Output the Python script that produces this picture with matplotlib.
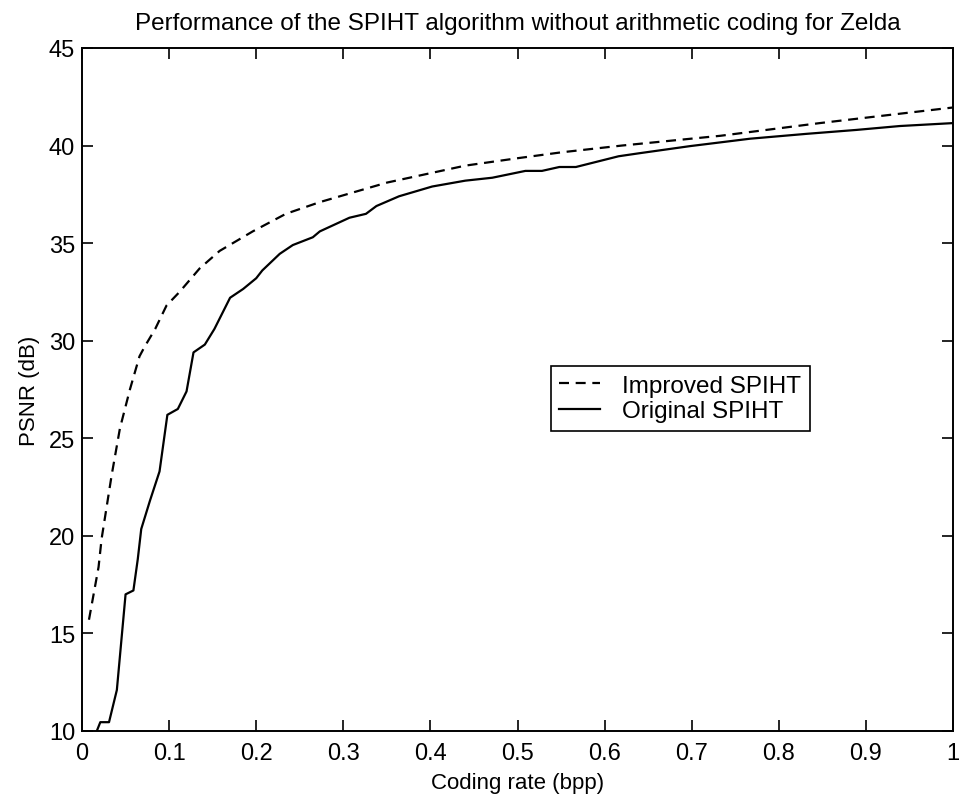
import matplotlib
matplotlib.use("Agg")
import matplotlib.pyplot as plt

plt.rcParams['font.family'] = ['Liberation Sans', 'DejaVu Sans']

# Original SPIHT rate-distortion curve (bpp, dB)
orig_rate = [0.017, 0.021, 0.031, 0.040, 0.050, 0.059, 0.064, 0.068, 0.078, 0.089,
             0.098, 0.110, 0.120, 0.128, 0.141, 0.152, 0.170, 0.185, 0.200, 0.207,
             0.227, 0.242, 0.265, 0.273, 0.307, 0.326, 0.338, 0.364, 0.402, 0.440,
             0.471, 0.509, 0.528, 0.548, 0.567, 0.616, 0.639, 0.698, 0.767, 0.832,
             0.889, 0.939, 1.000]
orig_psnr = [10.0, 10.45, 10.45, 12.1, 17.0, 17.2, 18.8, 20.35, 21.8, 23.3,
             26.2, 26.5, 27.4, 29.4, 29.8, 30.6, 32.2, 32.65, 33.2, 33.6,
             34.45, 34.9, 35.3, 35.6, 36.3, 36.5, 36.9, 37.4, 37.9, 38.2,
             38.35, 38.7, 38.7, 38.9, 38.9, 39.45, 39.6, 39.97, 40.35, 40.6,
             40.8, 41.0, 41.15]

# Improved SPIHT rate-distortion curve (bpp, dB)
impr_rate = [0.008, 0.019, 0.0225, 0.034, 0.0435, 0.055, 0.066, 0.072, 0.084, 0.097,
             0.112, 0.135, 0.158, 0.196, 0.234, 0.273, 0.35, 0.44, 0.50, 0.55,
             0.62, 0.733, 0.847, 1.000]
impr_psnr = [15.7, 18.4, 19.85, 23.1, 25.5, 27.5, 29.2, 29.7, 30.6, 31.8,
             32.5, 33.7, 34.6, 35.6, 36.5, 37.1, 38.1, 38.97, 39.35, 39.65,
             40.0, 40.5, 41.15, 41.95]

x_ticks = [0, 0.1, 0.2, 0.3, 0.4, 0.5, 0.6, 0.7, 0.8, 0.9, 1]
x_tick_labels = ['0', '0.1', '0.2', '0.3', '0.4', '0.5', '0.6', '0.7', '0.8', '0.9', '1']
y_ticks = [10, 15, 20, 25, 30, 35, 40, 45]

fig = plt.figure(figsize=(9.66, 8.04), dpi=100)
ax = fig.add_axes([0.0849, 0.0896, 0.9017, 0.8495])

ax.plot(impr_rate, impr_psnr, color='black', linestyle=(0, (4.5, 3)), linewidth=1.6,
        label='Improved SPIHT')
ax.plot(orig_rate, orig_psnr, color='black', linestyle='-', linewidth=1.6,
        label='Original SPIHT')

ax.set_xlim(0, 1)
ax.set_ylim(10, 45)
ax.set_xticks(x_ticks)
ax.set_xticklabels(x_tick_labels)
ax.set_yticks(y_ticks)
ax.tick_params(axis='both', direction='in', top=True, right=True, length=8, width=1.2,
               labelsize=17)
ax.tick_params(axis='x', pad=8)
ax.tick_params(axis='y', pad=5)
for s in ax.spines.values():
    s.set_linewidth(1.4)

ax.set_xlabel('Coding rate (bpp)', fontsize=16, labelpad=6)
ax.set_ylabel('PSNR (dB)', fontsize=16, labelpad=6)
ax.set_title('Performance of the SPIHT algorithm without arithmetic coding for Zelda',
             fontsize=17.5, pad=14)

leg = ax.legend(loc='upper left', bbox_to_anchor=(0.538, 0.534), borderaxespad=0,
                fontsize=17.5, frameon=True, fancybox=False, edgecolor='black',
                framealpha=1, handlelength=1.7, borderpad=0.35, labelspacing=0.15,
                handletextpad=0.9)
leg.get_frame().set_linewidth(1.2)

fig.savefig('out.png', dpi=100)
